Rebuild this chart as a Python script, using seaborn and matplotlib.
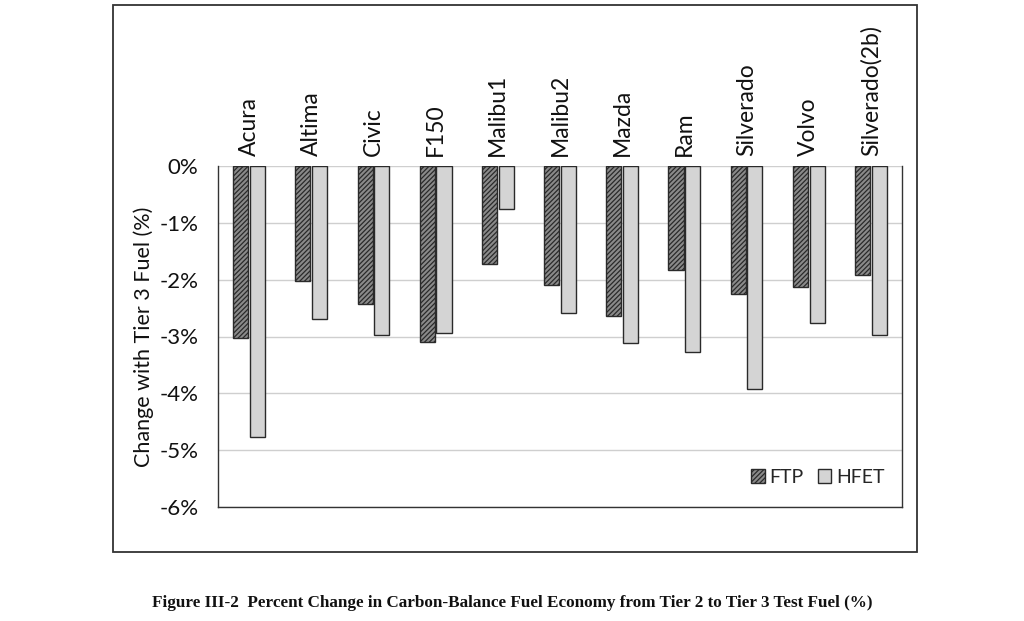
import matplotlib
matplotlib.use("Agg")
import matplotlib.pyplot as plt
import matplotlib.patches as mpatches
import seaborn as sns
import pandas as pd
from matplotlib.ticker import FuncFormatter

vehicles = ["Acura", "Altima", "Civic", "F150", "Malibu1", "Malibu2", "Mazda",
            "Ram", "Silverado", "Volvo", "Silverado(2b)"]
ftp = [-3.02, -2.03, -2.43, -3.10, -1.73, -2.10, -2.64, -1.83, -2.25, -2.13, -1.92]
hfet = [-4.77, -2.70, -2.98, -2.93, -0.76, -2.59, -3.12, -3.28, -3.93, -2.77, -2.98]
series = ["FTP", "HFET"]
yticks = [0, -1, -2, -3, -4, -5, -6]
ylabel = "Change with Tier 3 Fuel (%)"
caption = "Figure III-2  Percent Change in Carbon-Balance Fuel Economy from Tier 2 to Tier 3 Test Fuel (%)"

df = pd.DataFrame({
    "Vehicle": vehicles * 2,
    "Series": [series[0]] * len(vehicles) + [series[1]] * len(vehicles),
    "Value": ftp + hfet,
})

sns.set_theme(style="white")
plt.rcParams["font.family"] = ["Lato", "DejaVu Sans"]
plt.rcParams["hatch.color"] = "#262626"
plt.rcParams["hatch.linewidth"] = 0.9

fig = plt.figure(figsize=(10.24, 6.21), dpi=100)
ax = fig.add_axes([218 / 1024, 1 - 507 / 621, (902 - 218) / 1024, (507 - 166) / 621])

sns.barplot(data=df, x="Vehicle", y="Value", hue="Series", order=vehicles,
            hue_order=series, palette=["#9a9a9a", "#d4d4d4"], width=0.54,
            gap=0.1, edgecolor="#2a2a2a", linewidth=1.0, saturation=1,
            ax=ax, legend=False)

n = len(vehicles)
for i, p in enumerate(ax.patches[:2 * n]):
    if i < n:
        p.set_hatch("///////")
        p.set_facecolor("#8a8a8a")

ax.set_ylim(-6, 0)
ax.set_xlim(-0.5, n - 0.5)
ax.set_yticks(yticks)
ax.yaxis.set_major_formatter(FuncFormatter(lambda v, _: f"{int(round(v))}%"))
ax.grid(axis="y", color="#cfcfcf", linewidth=1.0)
ax.set_axisbelow(True)
ax.xaxis.tick_top()
ax.tick_params(axis="x", labelrotation=90, labelsize=16.5, length=0, pad=7)
ax.tick_params(axis="y", labelsize=16, length=0, pad=14)
for lbl in ax.get_xticklabels():
    lbl.set_color("#111111")
for lbl in ax.get_yticklabels():
    lbl.set_color("#111111")
ax.set_xlabel("")
ax.set_ylabel(ylabel, fontsize=15.5, color="#111111", labelpad=4)

for side in ["left", "bottom", "right"]:
    ax.spines[side].set_visible(True)
    ax.spines[side].set_color("#333333")
    ax.spines[side].set_linewidth(1.0)
ax.spines["top"].set_visible(False)

handles = [
    mpatches.Patch(facecolor="#8a8a8a", edgecolor="#2a2a2a", hatch="///////", label=series[0]),
    mpatches.Patch(facecolor="#d4d4d4", edgecolor="#2a2a2a", label=series[1]),
]
ax.legend(handles=handles, loc="lower right", ncol=2, frameon=False, fontsize=14,
          handlelength=0.7, handleheight=0.7, handletextpad=0.25, columnspacing=0.7,
          bbox_to_anchor=(1.0, 0.01))

frame = mpatches.Rectangle((113 / 1024, 1 - 552 / 621), (917 - 113) / 1024, (552 - 5) / 621,
                           transform=fig.transFigure, fill=False, edgecolor="#333333",
                           linewidth=1.3)
fig.patches.append(frame)

fig.text(0.5, 1 - 603 / 621, caption, ha="center", va="center", fontsize=12.3,
         fontweight="bold", family=["Liberation Serif", "DejaVu Serif"], color="#111111")

fig.savefig("out.png", dpi=100)
